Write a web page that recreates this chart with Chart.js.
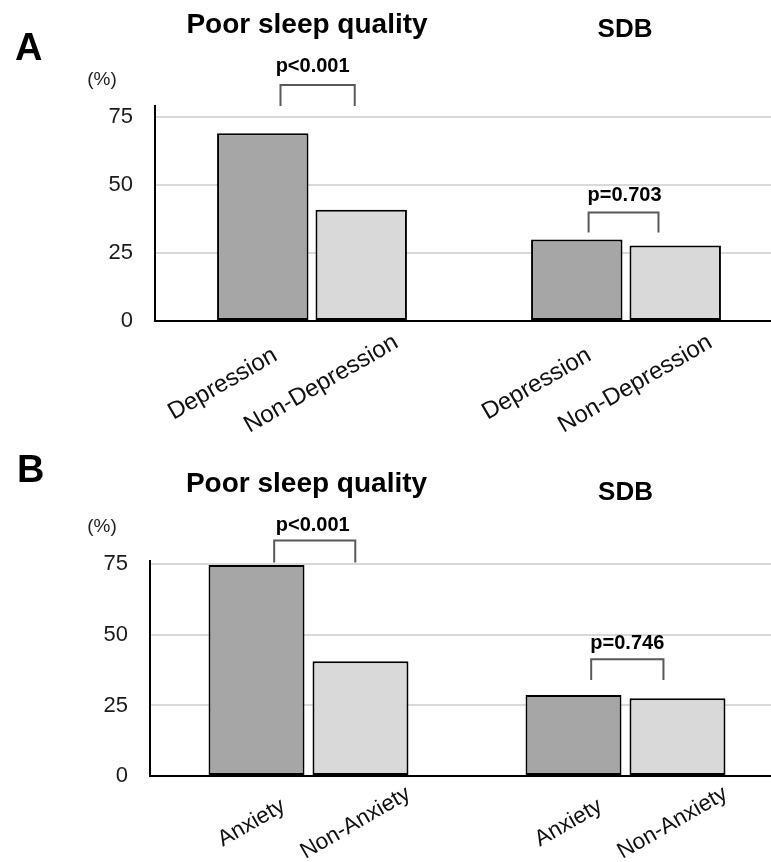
<!DOCTYPE html>
<html><head><meta charset="utf-8">
<script src="https://cdn.jsdelivr.net/npm/chart.js@4.4.1/dist/chart.umd.min.js"></script>
<style>
html,body{margin:0;padding:0;background:#fff;overflow:hidden;width:771px;height:862px;}
#wrap{position:relative;width:771px;height:862px;overflow:hidden;background:#fff;}
canvas{position:absolute;left:0;}
#cA{top:0;} #cB{top:440px;}
</style></head><body>
<div id="wrap"><canvas id="cA" width="786" height="440"></canvas><canvas id="cB" width="786" height="422"></canvas></div>
<script>
// ---- data ----
const groups = ["Poor sleep quality", "SDB"];
const yTicks = [0, 25, 50, 75];
// Panel A
const seriesA = ["Depression", "Non-Depression"];
const depressionVals = [68.9, 29.9];
const nonDepressionVals = [40.8, 27.7];
const pValuesA = ["p<0.001", "p=0.703"];
// Panel B
const seriesB = ["Anxiety", "Non-Anxiety"];
const anxietyVals = [74.8, 28.7];
const nonAnxietyVals = [40.7, 27.6];
const pValuesB = ["p<0.001", "p=0.746"];

const FF = '"Liberation Sans", Arial, sans-serif';
const DARK = '#a6a6a6', LIGHT = '#d9d9d9';

const decor = {
  id: 'decor',
  afterDraw(chart, args, o) {
    const ctx = chart.ctx, xs = chart.scales.x, ys = chart.scales.y, area = chart.chartArea;
    ctx.save();
    ctx.fillStyle = '#000';
    // panel letter
    ctx.font = 'bold 38px ' + FF; ctx.textAlign = 'left'; ctx.textBaseline = 'alphabetic';
    ctx.fillText(o.letter, o.letterX, o.letterY);
    // unit
    ctx.font = '19px ' + FF; ctx.textAlign = 'center'; ctx.textBaseline = 'middle'; ctx.fillStyle = '#222';
    ctx.fillText('(%)', o.unitX, o.unitY);
    ctx.fillStyle = '#000';
    // group titles
    groups.forEach((g, i) => {
      ctx.font = 'bold ' + o.titleSize[i] + 'px ' + FF; ctx.textAlign = 'center'; ctx.textBaseline = 'alphabetic';
      ctx.fillText(g, xs.getPixelForValue(i) + o.titleDx[i], o.titleY[i]);
    });
    // rotated bar labels
    chart.data.datasets.forEach((ds, di) => {
      chart.getDatasetMeta(di).data.forEach(el => {
        ctx.save();
        ctx.translate(el.x + o.labelDx, area.bottom + o.labelDy);
        ctx.rotate(-Math.PI / 6);
        ctx.font = o.labelSize + 'px ' + FF; ctx.textAlign = 'center'; ctx.textBaseline = 'middle';
        ctx.fillStyle = '#111';
        ctx.fillText(ds.label, 0, 0);
        ctx.restore();
      });
    });
    // p-value brackets
    o.pValues.forEach((p, i) => {
      const b0 = chart.getDatasetMeta(0).data[i], b1 = chart.getDatasetMeta(1).data[i];
      const d = b1.x - b0.x;
      const xl = b0.x + o.brk[i][0] * d, xr = b1.x - o.brk[i][1] * d;
      const yb = ys.getPixelForValue(o.brkLow[i]), yt = ys.getPixelForValue(o.brkHigh[i]);
      ctx.strokeStyle = '#595959'; ctx.lineWidth = 2;
      ctx.beginPath(); ctx.moveTo(xl, yb); ctx.lineTo(xl, yt); ctx.lineTo(xr, yt); ctx.lineTo(xr, yb); ctx.stroke();
      ctx.font = 'bold 20px ' + FF; ctx.textAlign = 'center'; ctx.textBaseline = 'alphabetic'; ctx.fillStyle = '#000';
      ctx.fillText(p, (xl + xr) / 2 + o.pTextDx[i], ys.getPixelForValue(o.pTextAt[i]));
    });
    ctx.restore();
  }
};

function makeChart(id, names, v0, v1, pVals, cfg) {
  return new Chart(document.getElementById(id), {
    type: 'bar',
    data: {
      labels: groups,
      datasets: [
        { label: names[0], data: v0, backgroundColor: DARK, borderColor: '#000', borderWidth: 2, borderSkipped: false,
          categoryPercentage: cfg.cp, barPercentage: cfg.bp },
        { label: names[1], data: v1, backgroundColor: LIGHT, borderColor: '#000', borderWidth: 2, borderSkipped: false,
          categoryPercentage: cfg.cp, barPercentage: cfg.bp }
      ]
    },
    options: {
      responsive: false, animation: false, devicePixelRatio: 1,
      layout: { padding: cfg.padding },
      plugins: { legend: { display: false }, tooltip: { enabled: false }, title: { display: false },
        decor: Object.assign({ pValues: pVals }, cfg.decor) },
      scales: {
        x: { display: true, offset: true, ticks: { display: false }, grid: { display: false, drawTicks: false },
             border: { display: true, color: '#000', width: 2 } },
        y: { min: 0, max: cfg.ymax,
             afterBuildTicks: s => { s.ticks = yTicks.map(v => ({ value: v })); },
             afterFit: s => { s.width = cfg.axisX; },
             ticks: { padding: 22, color: '#1a1a1a', font: { family: FF, size: 22 } },
             grid: { color: '#d9d9d9', lineWidth: 2, drawTicks: false },
             border: { display: true, color: '#000', width: 2 } }
      }
    },
    plugins: [decor]
  });
}

makeChart('cA', seriesA, depressionVals, nonDepressionVals, pValuesA, {
  cp: 0.627, bp: 0.929, ymax: 78.9, axisX: 155,
  padding: { top: 106, bottom: 119, left: 0, right: 3 },
  decor: { letter: 'A', letterX: 15, letterY: 60, unitX: 102, unitY: 80,
    titleSize: [28, 26], titleDx: [-5, -1], titleY: [33, 37],
    labelDx: -40, labelDy: 63, labelSize: 24,
    brk: [[0.18, 0.066], [0.12, 0.17]], brkLow: [78.9, 32.5], brkHigh: [86.6, 39.8], pTextAt: [91.4, 44.2], pTextDx: [-5, 1] }
});

makeChart('cB', seriesB, anxietyVals, nonAnxietyVals, pValuesB, {
  cp: 0.656, bp: 0.923, ymax: 76.2, axisX: 150,
  padding: { top: 121, bottom: 86, left: 0, right: 2 },
  decor: { letter: 'B', letterX: 17, letterY: 42, unitX: 102, unitY: 87,
    titleSize: [28, 26], titleDx: [-2, 0], titleY: [52, 60],
    labelDx: -5, labelDy: 47, labelSize: 22.5,
    brk: [[0.17, 0.05], [0.17, 0.135]], brkLow: [75.7, 34.0], brkHigh: [83.5, 41.4], pTextAt: [87.0, 44.9], pTextDx: [-2, 0] }
});
</script>
</body></html>
